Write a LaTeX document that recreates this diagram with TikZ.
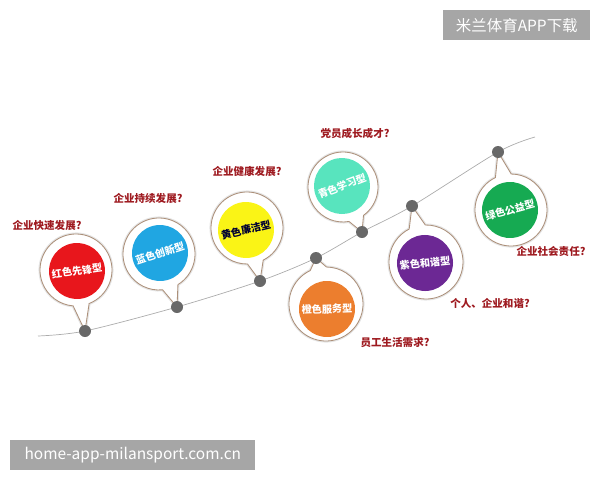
\documentclass[tikz,border=0pt]{standalone}
\usepackage{fontspec}
\newfontfamily\cjk{Noto Sans CJK SC}
\definecolor{qred}{RGB}{232,22,28}
\definecolor{qblue}{RGB}{32,166,226}
\definecolor{qyellow}{RGB}{250,244,22}
\definecolor{qorange}{RGB}{236,126,46}
\definecolor{qteal}{RGB}{88,228,190}
\definecolor{qpurple}{RGB}{108,40,148}
\definecolor{qgreen}{RGB}{22,170,82}
\definecolor{qlabel}{RGB}{158,26,32}
\definecolor{qrim}{RGB}{172,144,122}
\definecolor{qdot}{RGB}{104,104,104}
\definecolor{qtrack}{RGB}{172,172,172}
\definecolor{qbox}{RGB}{166,166,166}
\usetikzlibrary{calc}

% speech balloon: centre, dot, radius
\newcommand{\balloon}[3]{%
  \path[halo] let \p1=($(#2)-(#1)$), \n1={atan2(\y1,\x1)} in
    ($(#1)+(\n1+13:#3)$) arc[start angle=\n1+13, end angle=\n1+347, radius=#3]
    -- (#2) -- cycle;
  \draw[rim] let \p1=($(#2)-(#1)$), \n1={atan2(\y1,\x1)} in
    ($(#1)+(\n1+13:#3)$) arc[start angle=\n1+13, end angle=\n1+347, radius=#3]
    -- (#2) -- cycle;
}

\begin{document}
\begin{tikzpicture}[x=0.025cm,y=0.025cm,
    halo/.style={draw=black!10,line width=2.2pt},
    rim/.style={draw=qrim,fill=white,line width=0.6pt},
    disc/.style={circle,minimum size=1.4cm,inner sep=0pt,text=white,
      font=\cjk\bfseries\fontsize{7.2}{8}\selectfont},
    dot/.style={circle,fill=qdot,minimum size=0.3cm,inner sep=0pt},
    track/.style={draw=qtrack,line width=0.5pt},
    ask/.style={text=qlabel,font=\cjk\bfseries\fontsize{7.5}{9}\selectfont},
    tag/.style={fill=qbox,text=white,inner sep=0pt,anchor=north west,
      font=\cjk\fontsize{11}{13}\selectfont}]
  \useasboundingbox (0,0) rectangle (600,-480);
  % Track
  \coordinate (s) at (38,-336);
  \coordinate (p1) at (85,-331);
  \coordinate (p2) at (177,-307);
  \coordinate (p3) at (260,-281);
  \coordinate (p4) at (316,-258);
  \coordinate (p5) at (362,-232);
  \coordinate (p6) at (412,-206);
  \coordinate (p7) at (498,-152);
  \coordinate (e) at (535,-137);
  \draw[track] plot[smooth,tension=0.5] coordinates {(s) (p1) (p2) (p3) (p4) (p5) (p6) (p7) (e)};
  % Balloons
  \coordinate (c1) at (76,-270);
  \coordinate (c2) at (159,-254);
  \coordinate (c3) at (247,-228);
  \coordinate (c4) at (326,-304);
  \coordinate (c5) at (343,-187);
  \coordinate (c6) at (426,-262);
  \coordinate (c7) at (511,-210);
  \balloon{c1}{p1}{36}
  \balloon{c2}{p2}{36}
  \balloon{c3}{p3}{36}
  \balloon{c4}{p4}{37}
  \balloon{c5}{p5}{35}
  \balloon{c6}{p6}{37}
  \balloon{c7}{p7}{36}
  \node[disc,fill=qred,rotate=8] (red) at (77,-271) {红色先锋型};
  \node[disc,fill=qblue,rotate=18] (blue) at (160,-253) {蓝色创新型};
  \node[disc,fill=qyellow,text=black!80!blue,rotate=14] (yellow) at (246,-230) {黄色廉洁型};
  \node[disc,fill=qorange,rotate=2] (orange) at (327,-309) {橙色服务型};
  \node[disc,fill=qteal,rotate=21] (teal) at (342,-186) {青色学习型};
  \node[disc,fill=qpurple,rotate=6] (purple) at (425,-263) {紫色和谐型};
  \node[disc,fill=qgreen,rotate=15] (green) at (510,-210) {绿色公益型};
  % Dots
  \foreach \i in {1,...,7}
    \node[dot] (d\i) at (p\i) {};
  % Questions
  \node[ask] (q1) at (47,-225) {企业快速发展?};
  \node[ask] (q2) at (148,-198) {企业持续发展?};
  \node[ask] (q3) at (247,-171) {企业健康发展?};
  \node[ask] (q4) at (355,-133) {党员成长成才?};
  \node[ask] (q5) at (395,-343) {员工生活需求?};
  \node[ask] (q6) at (490,-303) {个人、企业和谐?};
  \node[ask] (q7) at (551,-251) {企业社会责任?};
  % Watermarks
  \node[tag,minimum width=3.675cm,minimum height=0.75cm] (app) at (443,-10) {米兰体育APP下载};
  \node[tag,minimum width=6.125cm,minimum height=0.75cm] (site) at (10,-440) {home-app-milansport.com.cn};
\end{tikzpicture}
\end{document}
